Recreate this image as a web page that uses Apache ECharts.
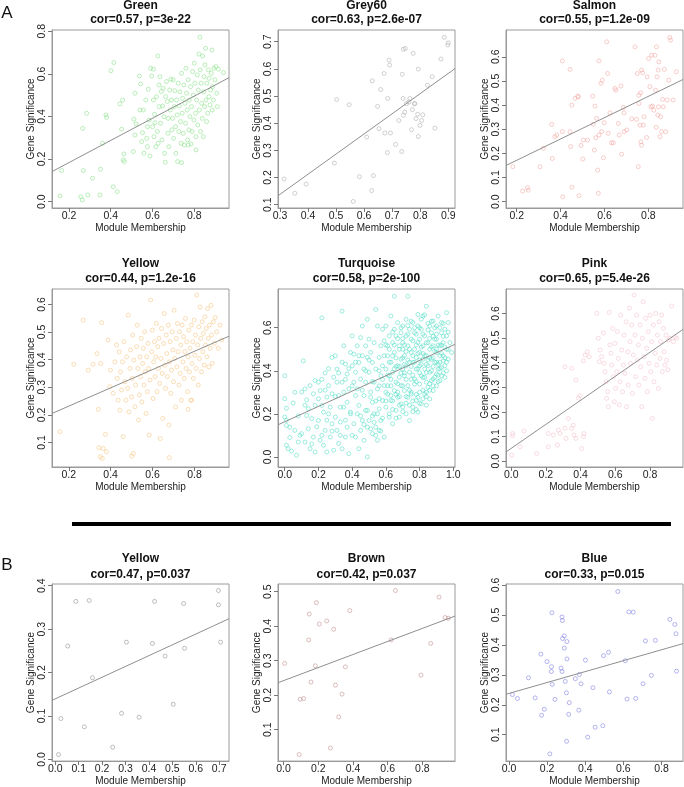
<!DOCTYPE html>
<html><head><meta charset="utf-8">
<script src="https://cdn.jsdelivr.net/npm/echarts@6/dist/echarts.min.js"></script>
<style>html,body{margin:0;padding:0;background:#fff}#c{width:684px;height:787px}</style>
</head><body><div id="c"></div>
<script>
// ---------- DATA ----------
const panelNames = ['Green','Grey60','Salmon','Yellow','Turquoise','Pink','Yellow','Brown','Blue'];
const panelStats = ['cor=0.57, p=3e-22','cor=0.63, p=2.6e-07','cor=0.55, p=1.2e-09','cor=0.44, p=1.2e-16','cor=0.58, p=2e-100','cor=0.65, p=5.4e-26','cor=0.47, p=0.037','cor=0.42, p=0.037','cor=0.33, p=0.015'];

const xRanges = [[0.119,0.966],[0.293,0.924],[0.151,0.958],[0.12,0.965],[-0.04,1.01],[-0.03,0.99],[-0.014,0.742],[-0.032,0.988],[-0.016,0.913]];
const yRanges = [[-0.03,0.806],[0.088,0.743],[-0.026,0.711],[0.011,0.656],[-0.047,0.78],[-0.024,0.699],[-0.004,0.404],[0.009,0.522],[0.012,0.603]];
const xTicks = [[0.2,0.4,0.6,0.8],[0.3,0.4,0.5,0.6,0.7,0.8,0.9],[0.2,0.4,0.6,0.8],[0.2,0.4,0.6,0.8],[0,0.2,0.4,0.6,0.8,1.0],[0,0.2,0.4,0.6,0.8],[0,0.1,0.2,0.3,0.4,0.5,0.6,0.7],[0,0.2,0.4,0.6,0.8],[0,0.2,0.4,0.6,0.8]];
const yTicks = [[0,0.2,0.4,0.6,0.8],[0.1,0.2,0.3,0.4,0.5,0.6,0.7],[0,0.1,0.2,0.3,0.4,0.5,0.6],[0.1,0.2,0.3,0.4,0.5,0.6],[0,0.2,0.4,0.6],[0,0.1,0.2,0.3,0.4,0.5,0.6],[0,0.1,0.2,0.3,0.4],[0.1,0.2,0.3,0.4,0.5],[0.1,0.2,0.3,0.4,0.5,0.6]];

// regression line end points (value space)
const fitLines = [
 [[0.119,0.141],[0.966,0.582]],
 [[0.293,0.133],[0.924,0.601]],
 [[0.151,0.150],[0.958,0.506]],
 [[0.12,0.205],[0.965,0.485]],
 [[-0.04,0.149],[1.01,0.523]],
 [[-0.03,0.037],[0.99,0.535]],
 [[-0.014,0.136],[0.742,0.324]],
 [[-0.032,0.236],[0.988,0.429]],
 [[-0.016,0.235],[0.913,0.404]]
];

const greenPts = [[0.157,0.027],[0.165,0.146],[0.257,0.023],[0.264,0.008],[0.269,0.146],[0.266,0.344],[0.285,0.415],[0.290,0.031],[0.313,0.110],[0.348,0.031],[0.351,0.152],[0.361,0.274],[0.377,0.407],[0.380,0.396],[0.401,0.615],[0.415,0.653],[0.412,0.070],[0.431,0.047],[0.444,0.459],[0.452,0.340],[0.457,0.477],[0.460,0.196],[0.463,0.224],[0.465,0.188],[0.508,0.235],[0.511,0.387],[0.516,0.509],[0.516,0.313],[0.521,0.365],[0.537,0.590],[0.540,0.430],[0.543,0.553],[0.548,0.282],[0.552,0.324],[0.556,0.430],[0.559,0.227],[0.568,0.477],[0.572,0.297],[0.576,0.258],[0.576,0.352],[0.580,0.528],[0.584,0.383],[0.588,0.214],[0.591,0.626],[0.596,0.590],[0.600,0.352],[0.604,0.622],[0.604,0.477],[0.607,0.305],[0.610,0.410],[0.612,0.371],[0.616,0.258],[0.619,0.493],[0.623,0.329],[0.626,0.684],[0.627,0.274],[0.631,0.548],[0.632,0.446],[0.635,0.587],[0.639,0.368],[0.642,0.517],[0.645,0.290],[0.648,0.449],[0.651,0.532],[0.655,0.399],[0.658,0.227],[0.661,0.185],[0.663,0.493],[0.667,0.564],[0.671,0.470],[0.674,0.321],[0.675,0.391],[0.678,0.258],[0.682,0.524],[0.685,0.430],[0.688,0.575],[0.691,0.477],[0.693,0.337],[0.696,0.391],[0.699,0.572],[0.701,0.297],[0.704,0.446],[0.707,0.521],[0.710,0.352],[0.712,0.227],[0.715,0.477],[0.718,0.407],[0.720,0.188],[0.723,0.556],[0.726,0.329],[0.728,0.449],[0.731,0.516],[0.734,0.376],[0.737,0.274],[0.739,0.603],[0.742,0.415],[0.744,0.485],[0.747,0.321],[0.750,0.548],[0.752,0.266],[0.755,0.462],[0.758,0.368],[0.760,0.626],[0.763,0.509],[0.766,0.430],[0.768,0.290],[0.771,0.572],[0.774,0.337],[0.776,0.477],[0.779,0.399],[0.782,0.540],[0.784,0.271],[0.787,0.446],[0.790,0.329],[0.792,0.611],[0.795,0.501],[0.798,0.383],[0.800,0.650],[0.803,0.556],[0.806,0.415],[0.808,0.305],[0.811,0.477],[0.814,0.595],[0.816,0.360],[0.819,0.524],[0.822,0.693],[0.824,0.430],[0.827,0.772],[0.828,0.619],[0.830,0.329],[0.833,0.556],[0.835,0.462],[0.838,0.391],[0.840,0.684],[0.843,0.305],[0.845,0.516],[0.846,0.587],[0.849,0.446],[0.851,0.642],[0.854,0.720],[0.856,0.477],[0.859,0.376],[0.860,0.556],[0.864,0.415],[0.867,0.619],[0.870,0.493],[0.871,0.579],[0.875,0.454],[0.878,0.524],[0.881,0.603],[0.884,0.712],[0.886,0.430],[0.887,0.540],[0.891,0.477],[0.894,0.626],[0.899,0.572],[0.903,0.634],[0.907,0.509],[0.910,0.446],[0.915,0.622],[0.939,0.606],[0.808,0.243],[0.771,0.266],[0.739,0.183]];

const grey60Pts = [[0.315,0.195],[0.353,0.142],[0.393,0.176],[0.502,0.487],[0.494,0.253],[0.547,0.468],[0.561,0.112],[0.583,0.203],[0.627,0.152],[0.629,0.556],[0.633,0.207],[0.609,0.349],[0.648,0.462],[0.653,0.380],[0.659,0.524],[0.671,0.583],[0.674,0.364],[0.683,0.292],[0.684,0.491],[0.689,0.632],[0.691,0.614],[0.694,0.364],[0.712,0.322],[0.724,0.410],[0.734,0.296],[0.736,0.580],[0.739,0.491],[0.740,0.672],[0.747,0.675],[0.740,0.429],[0.745,0.441],[0.751,0.472],[0.760,0.478],[0.763,0.491],[0.769,0.376],[0.772,0.450],[0.775,0.657],[0.779,0.472],[0.781,0.472],[0.785,0.417],[0.791,0.433],[0.793,0.351],[0.793,0.599],[0.799,0.392],[0.805,0.410],[0.809,0.431],[0.826,0.540],[0.843,0.571],[0.852,0.382],[0.874,0.636],[0.886,0.716],[0.898,0.688],[0.900,0.696]];

const salmonPts = [[0.182,0.145],[0.227,0.044],[0.249,0.058],[0.253,0.048],[0.306,0.145],[0.321,0.221],[0.359,0.320],[0.362,0.179],[0.374,0.269],[0.382,0.276],[0.408,0.290],[0.408,0.583],[0.443,0.290],[0.443,0.548],[0.410,0.020],[0.446,0.228],[0.451,0.400],[0.451,0.060],[0.466,0.428],[0.478,0.437],[0.481,0.434],[0.484,0.025],[0.493,0.233],[0.501,0.177],[0.504,0.255],[0.523,0.255],[0.546,0.437],[0.549,0.321],[0.554,0.214],[0.557,0.396],[0.560,0.265],[0.564,0.345],[0.569,0.131],[0.572,0.035],[0.575,0.583],[0.575,0.276],[0.584,0.490],[0.590,0.503],[0.587,0.290],[0.595,0.182],[0.599,0.327],[0.610,0.662],[0.614,0.531],[0.617,0.283],[0.625,0.368],[0.632,0.244],[0.640,0.244],[0.648,0.469],[0.652,0.462],[0.663,0.324],[0.667,0.276],[0.675,0.479],[0.678,0.197],[0.686,0.390],[0.689,0.368],[0.690,0.290],[0.701,0.297],[0.724,0.343],[0.739,0.641],[0.746,0.341],[0.750,0.531],[0.754,0.145],[0.757,0.441],[0.757,0.407],[0.762,0.317],[0.765,0.451],[0.766,0.248],[0.769,0.234],[0.769,0.545],[0.774,0.534],[0.777,0.317],[0.781,0.352],[0.792,0.266],[0.795,0.517],[0.801,0.593],[0.807,0.476],[0.812,0.393],[0.815,0.607],[0.819,0.396],[0.825,0.379],[0.830,0.606],[0.833,0.462],[0.836,0.308],[0.837,0.641],[0.840,0.517],[0.843,0.359],[0.845,0.545],[0.846,0.393],[0.848,0.579],[0.853,0.269],[0.856,0.352],[0.860,0.290],[0.865,0.424],[0.868,0.393],[0.873,0.548],[0.879,0.290],[0.886,0.421],[0.893,0.503],[0.898,0.680],[0.901,0.669],[0.913,0.421],[0.928,0.538]];

const yellowPts = [[0.157,0.139],[0.224,0.383],[0.269,0.543],[0.293,0.362],[0.316,0.383],[0.335,0.422],[0.341,0.220],[0.357,0.534],[0.352,0.386],[0.375,0.129],[0.344,0.081],[0.364,0.078],[0.388,0.471],[0.396,0.302],[0.399,0.362],[0.412,0.278],[0.420,0.392],[0.428,0.453],[0.431,0.332],[0.436,0.253],[0.441,0.428],[0.444,0.217],[0.447,0.356],[0.452,0.290],[0.457,0.392],[0.460,0.121],[0.463,0.465],[0.468,0.320],[0.473,0.253],[0.476,0.410],[0.481,0.296],[0.484,0.561],[0.487,0.211],[0.492,0.368],[0.495,0.435],[0.500,0.265],[0.503,0.332],[0.505,0.489],[0.508,0.060],[0.511,0.398],[0.516,0.229],[0.519,0.308],[0.524,0.447],[0.527,0.525],[0.530,0.368],[0.533,0.181],[0.537,0.272],[0.540,0.410],[0.543,0.338],[0.546,0.477],[0.549,0.247],[0.553,0.386],[0.556,0.441],[0.559,0.308],[0.562,0.501],[0.565,0.356],[0.569,0.205],[0.572,0.410],[0.575,0.284],[0.578,0.459],[0.581,0.368],[0.584,0.127],[0.588,0.326],[0.591,0.616],[0.596,0.429],[0.599,0.507],[0.602,0.259],[0.605,0.392],[0.609,0.465],[0.612,0.338],[0.615,0.410],[0.618,0.531],[0.621,0.284],[0.625,0.447],[0.628,0.368],[0.631,0.477],[0.634,0.314],[0.637,0.114],[0.640,0.404],[0.643,0.513],[0.646,0.350],[0.649,0.187],[0.653,0.459],[0.656,0.567],[0.659,0.380],[0.662,0.296],[0.665,0.489],[0.668,0.422],[0.671,0.338],[0.675,0.525],[0.678,0.163],[0.681,0.392],[0.684,0.465],[0.687,0.278],[0.691,0.362],[0.694,0.501],[0.697,0.435],[0.700,0.320],[0.703,0.579],[0.706,0.404],[0.710,0.229],[0.713,0.477],[0.716,0.374],[0.719,0.531],[0.722,0.429],[0.726,0.308],[0.729,0.501],[0.732,0.350],[0.735,0.453],[0.738,0.253],[0.741,0.525],[0.745,0.392],[0.748,0.483],[0.751,0.332],[0.754,0.429],[0.757,0.549],[0.760,0.368],[0.763,0.465],[0.767,0.284],[0.770,0.410],[0.773,0.507],[0.776,0.356],[0.779,0.441],[0.783,0.253],[0.786,0.525],[0.789,0.386],[0.792,0.465],[0.795,0.332],[0.799,0.543],[0.802,0.416],[0.805,0.489],[0.808,0.368],[0.811,0.634],[0.815,0.453],[0.818,0.308],[0.821,0.519],[0.824,0.404],[0.827,0.591],[0.831,0.477],[0.834,0.356],[0.837,0.537],[0.840,0.429],[0.843,0.495],[0.847,0.380],[0.850,0.555],[0.853,0.453],[0.856,0.513],[0.859,0.410],[0.863,0.585],[0.866,0.477],[0.869,0.374],[0.872,0.525],[0.875,0.441],[0.879,0.597],[0.882,0.489],[0.885,0.386],[0.890,0.537],[0.895,0.459],[0.899,0.553],[0.906,0.501],[0.914,0.441],[0.922,0.525],[0.930,0.471],[0.380,0.066],[0.350,0.048],[0.360,0.042],[0.500,0.050],[0.680,0.045],[0.770,0.220],[0.786,0.253]];

const turquoisePts = [[0.00,0.377],[0.00,0.27],[0.01,0.226],[0.01,0.146],[0.00,0.185],[0.01,0.054],[0.02,0.038],[0.04,0.027],[0.03,0.138],[0.01,0.17],[0.06,0.123],[0.07,0.008],[0.08,0.069],[0.05,0.25],[0.09,0.10],
[0.11,0.446],[0.12,0.316],[0.10,0.301],[0.13,0.265],[0.14,0.224],[0.15,0.331],[0.16,0.178],[0.17,0.293],[0.18,0.239],[0.18,0.355],[0.10,0.108],[0.12,0.069],[0.14,0.131],[0.15,0.038],[0.17,0.092],[0.18,0.023],[0.13,0.192],
[0.20,0.347],[0.20,0.27],[0.21,0.308],[0.22,0.239],[0.22,0.646],[0.23,0.208],[0.24,0.39],[0.25,0.278],[0.26,0.331],[0.27,0.231],[0.28,0.293],[0.29,0.37],[0.28,0.462],[0.20,0.169],[0.21,0.077],[0.23,0.054],[0.24,0.123],[0.25,0.023],[0.26,0.2],[0.27,0.092],[0.28,0.154],[0.29,0.031],
[0.30,0.47],[0.31,0.347],[0.31,0.408],[0.32,0.285],[0.33,0.231],[0.34,0.677],[0.34,0.347],[0.35,0.516],[0.35,0.301],[0.36,0.431],[0.37,0.254],[0.37,0.385],[0.38,0.316],[0.39,0.485],[0.39,0.208],[0.30,0.185],[0.31,0.123],[0.32,0.062],[0.33,0.162],[0.34,0.038],[0.35,0.231],[0.36,0.092],[0.37,0.138],[0.38,0.015],[0.39,0.2],
[0.40,0.423],[0.40,0.562],[0.41,0.347],[0.41,0.477],[0.42,0.285],[0.42,0.393],[0.43,0.516],[0.43,0.316],[0.44,0.239],[0.44,0.439],[0.45,0.554],[0.45,0.362],[0.46,0.47],[0.46,0.608],[0.47,0.285],[0.47,0.408],[0.48,0.347],[0.48,0.516],[0.49,0.639],[0.49,0.216],[0.49,0.462],[0.41,0.154],[0.42,0.092],[0.43,0.2],[0.44,0.038],[0.45,0.123],[0.46,0.169],[0.47,0.077],[0.48,0.216],[0.49,0.138],[0.49,0.0],
[0.50,0.393],[0.50,0.547],[0.51,0.301],[0.51,0.485],[0.52,0.254],[0.52,0.439],[0.53,0.347],[0.53,0.531],[0.54,0.685],[0.54,0.408],[0.55,0.608],[0.55,0.316],[0.56,0.462],[0.56,0.27],[0.57,0.516],[0.57,0.377],[0.58,0.593],[0.58,0.423],[0.59,0.331],[0.59,0.539],[0.50,0.169],[0.51,0.277],[0.52,0.108],[0.53,0.2],[0.54,0.138],[0.55,0.077],[0.56,0.223],[0.56,0.123],[0.57,0.169],[0.58,0.262],[0.59,0.092],
[0.60,0.408],[0.60,0.608],[0.61,0.516],[0.61,0.331],[0.61,0.47],[0.62,0.562],[0.62,0.377],[0.63,0.654],[0.63,0.439],[0.63,0.285],[0.64,0.531],[0.64,0.393],[0.65,0.593],[0.65,0.746],[0.65,0.485],[0.66,0.347],[0.66,0.562],[0.67,0.423],[0.67,0.624],[0.67,0.301],[0.68,0.516],[0.68,0.37],[0.69,0.454],[0.69,0.577],[0.69,0.331],[0.70,0.5],[0.70,0.408],[0.60,0.231],[0.61,0.292],[0.62,0.185],[0.63,0.262],[0.64,0.154],[0.65,0.308],[0.66,0.216],[0.67,0.277],[0.68,0.185],[0.69,0.246],
[0.70,0.608],[0.70,0.531],[0.71,0.377],[0.71,0.47],[0.72,0.562],[0.72,0.423],[0.72,0.639],[0.73,0.331],[0.73,0.516],[0.73,0.746],[0.74,0.593],[0.74,0.393],[0.75,0.485],[0.75,0.301],[0.75,0.547],[0.76,0.439],[0.76,0.624],[0.77,0.362],[0.77,0.5],[0.77,0.577],[0.78,0.408],[0.78,0.462],[0.79,0.662],[0.79,0.531],[0.70,0.231],[0.71,0.308],[0.72,0.2],[0.73,0.277],[0.74,0.169],[0.75,0.292],[0.76,0.231],[0.77,0.338],[0.78,0.262],[0.79,0.208],
[0.79,0.608],[0.80,0.423],[0.80,0.547],[0.80,0.485],[0.81,0.377],[0.81,0.593],[0.82,0.454],[0.82,0.654],[0.82,0.516],[0.83,0.408],[0.83,0.562],[0.84,0.347],[0.84,0.70],[0.84,0.47],[0.85,0.531],[0.85,0.423],[0.86,0.608],[0.86,0.5],[0.86,0.393],[0.87,0.577],[0.87,0.454],[0.88,0.631],[0.88,0.516],[0.88,0.362],[0.89,0.547],[0.89,0.439],[0.79,0.277],[0.80,0.338],[0.81,0.246],[0.82,0.369],[0.83,0.292],[0.84,0.392],[0.85,0.323],[0.86,0.269],[0.87,0.354],[0.88,0.308],
[0.90,0.608],[0.90,0.485],[0.90,0.547],[0.91,0.408],[0.91,0.654],[0.92,0.516],[0.92,0.439],[0.93,0.577],[0.93,0.377],[0.93,0.624],[0.94,0.47],[0.94,0.531],[0.95,0.423],[0.95,0.593],[0.96,0.67],[0.96,0.5],[0.96,0.562],[0.97,0.454],[0.97,0.624],[0.98,0.531],[0.99,0.485],[0.90,0.385],[0.91,0.431],[0.92,0.354],[0.93,0.415],[0.94,0.446],[0.95,0.369],
[0.62,0.44],[0.64,0.47],[0.66,0.42],[0.68,0.5],[0.70,0.46],[0.72,0.49],[0.74,0.44],[0.76,0.47],[0.78,0.52],[0.80,0.45],[0.82,0.48],[0.84,0.43],[0.86,0.55],[0.88,0.46],[0.90,0.50],[0.92,0.47],[0.94,0.56],[0.96,0.44],[0.63,0.36],[0.67,0.34],[0.71,0.39],[0.75,0.36],[0.79,0.41],[0.83,0.37],[0.87,0.40],[0.91,0.38],[0.65,0.52],[0.69,0.60],[0.73,0.57],[0.77,0.60],[0.81,0.64],[0.85,0.59],[0.89,0.60],[0.93,0.52],[0.97,0.58],[0.60,0.30],[0.64,0.26],[0.68,0.24],[0.72,0.28],[0.76,0.26],[0.80,0.30],[0.84,0.28],[0.88,0.33],[0.62,0.20],[0.66,0.18],[0.70,0.21],[0.74,0.24],[0.78,0.22],
[0.56,0.40],[0.58,0.36],[0.59,0.47],[0.60,0.52],[0.61,0.38],[0.62,0.50],[0.63,0.33],[0.64,0.58],[0.65,0.41],[0.66,0.46],[0.67,0.55],[0.68,0.42],[0.69,0.39],[0.70,0.55],[0.71,0.43],[0.71,0.52],[0.72,0.36],[0.73,0.45],[0.73,0.61],[0.74,0.50],[0.75,0.42],[0.75,0.63],[0.76,0.38],[0.76,0.54],[0.77,0.44],[0.78,0.57],[0.78,0.35],[0.79,0.48],[0.80,0.39],[0.80,0.60],[0.81,0.51],[0.81,0.43],[0.82,0.57],[0.82,0.31],[0.83,0.47],[0.83,0.66],[0.84,0.53],[0.84,0.30],[0.85,0.45],[0.85,0.62],[0.86,0.34],[0.86,0.46],[0.87,0.51],[0.87,0.63],[0.88,0.42],[0.88,0.56],[0.89,0.37],[0.89,0.49],[0.90,0.44],[0.90,0.57],[0.91,0.52],[0.91,0.35],[0.92,0.60],[0.92,0.41],[0.93,0.48],[0.94,0.39],[0.94,0.62],[0.95,0.51],[0.95,0.46],[0.96,0.40],[0.97,0.50],[0.66,0.29],[0.70,0.33],[0.74,0.31],[0.78,0.29],[0.82,0.27],[0.86,0.31],[0.90,0.33],[0.72,0.25],[0.76,0.21],[0.80,0.25],[0.84,0.24],[0.68,0.28],[0.64,0.22],[0.60,0.26],[0.56,0.33],[0.54,0.26],[0.52,0.35],[0.50,0.45],[0.48,0.40],[0.46,0.31],[0.44,0.47],[0.42,0.44],[0.40,0.33],[0.38,0.41],[0.36,0.36],[0.34,0.44],[0.32,0.39],[0.30,0.28],[0.26,0.41],[0.24,0.31],[0.22,0.36],[0.45,0.19],[0.47,0.15],[0.51,0.13],[0.53,0.16],[0.55,0.20],[0.57,0.12],[0.52,0.19],[0.54,0.10],[0.58,0.18],[0.40,0.10],[0.36,0.17],[0.33,0.10],[0.28,0.12],[0.25,0.17],[0.22,0.10],[0.19,0.14],[0.16,0.06],[0.12,0.24],[0.08,0.19],[0.06,0.30],[0.03,0.09]];

const pinkPts = [[0.008,0.112],[0.008,0.103],[0.074,0.122],[0.051,0.058],[0.003,0.024],[0.147,0.031],[0.214,0.112],[0.214,0.058],[0.243,0.106],[0.266,0.065],[0.272,0.126],[0.281,0.112],[0.310,0.133],[0.316,0.092],[0.329,0.173],[0.348,0.133],[0.358,0.146],[0.362,0.106],[0.373,0.092],[0.387,0.255],[0.396,0.266],[0.406,0.051],[0.416,0.099],[0.419,0.112],[0.310,0.383],[0.348,0.377],[0.373,0.329],[0.416,0.407],[0.426,0.431],[0.439,0.444],[0.450,0.424],[0.493,0.600],[0.502,0.499],[0.508,0.404],[0.512,0.451],[0.521,0.424],[0.531,0.520],[0.535,0.397],[0.541,0.363],[0.546,0.322],[0.550,0.255],[0.556,0.282],[0.560,0.221],[0.565,0.604],[0.569,0.472],[0.575,0.438],[0.579,0.390],[0.585,0.539],[0.589,0.343],[0.594,0.241],[0.598,0.478],[0.602,0.295],[0.608,0.363],[0.612,0.526],[0.617,0.417],[0.623,0.228],[0.627,0.322],[0.631,0.593],[0.637,0.451],[0.642,0.282],[0.646,0.390],[0.650,0.512],[0.656,0.356],[0.662,0.566],[0.665,0.221],[0.671,0.444],[0.675,0.309],[0.681,0.621],[0.685,0.485],[0.688,0.397],[0.694,0.553],[0.698,0.275],[0.704,0.431],[0.708,0.675],[0.713,0.512],[0.717,0.343],[0.723,0.593],[0.727,0.410],[0.733,0.472],[0.736,0.309],[0.742,0.553],[0.746,0.383],[0.752,0.221],[0.756,0.499],[0.761,0.648],[0.765,0.424],[0.771,0.336],[0.775,0.580],[0.781,0.458],[0.784,0.282],[0.790,0.526],[0.794,0.397],[0.800,0.593],[0.804,0.363],[0.809,0.485],[0.813,0.173],[0.819,0.553],[0.823,0.322],[0.829,0.438],[0.833,0.600],[0.838,0.390],[0.842,0.512],[0.848,0.295],[0.852,0.566],[0.857,0.417],[0.861,0.485],[0.867,0.593],[0.871,0.363],[0.877,0.539],[0.881,0.444],[0.886,0.390],[0.892,0.512],[0.896,0.410],[0.902,0.371],[0.906,0.492],[0.915,0.499],[0.925,0.630],[0.934,0.485],[0.944,0.505],[0.953,0.499]];

const yellowBPts = [[0.014,0.011],[0.024,0.094],[0.053,0.261],[0.088,0.364],[0.124,0.075],[0.145,0.366],[0.159,0.188],[0.245,0.028],[0.283,0.106],[0.304,0.270],[0.358,0.097],[0.415,0.267],[0.424,0.364],[0.469,0.238],[0.504,0.127],[0.548,0.359],[0.552,0.256],[0.697,0.389],[0.697,0.356],[0.706,0.270]];

const brownBPts = [[0.006,0.292],[0.096,0.188],[0.116,0.190],[0.090,0.028],[0.145,0.360],[0.148,0.435],[0.158,0.238],[0.183,0.285],[0.189,0.468],[0.206,0.406],[0.249,0.415],[0.270,0.047],[0.289,0.391],[0.299,0.229],[0.318,0.137],[0.337,0.203],[0.356,0.282],[0.382,0.445],[0.620,0.360],[0.645,0.503],[0.792,0.258],[0.848,0.350],[0.896,0.484],[0.931,0.425],[0.950,0.423]];

const blueBPts = [[0.018,0.234],[0.044,0.221],[0.102,0.290],[0.137,0.223],[0.167,0.369],[0.171,0.165],[0.185,0.185],[0.199,0.344],[0.214,0.036],[0.225,0.507],[0.223,0.327],[0.222,0.311],[0.227,0.268],[0.241,0.218],[0.273,0.322],[0.278,0.311],[0.278,0.493],[0.280,0.481],[0.281,0.421],[0.290,0.430],[0.290,0.389],[0.295,0.278],[0.301,0.240],[0.302,0.078],[0.304,0.353],[0.304,0.411],[0.316,0.207],[0.313,0.168],[0.348,0.287],[0.366,0.182],[0.369,0.301],[0.378,0.270],[0.401,0.349],[0.413,0.092],[0.440,0.257],[0.452,0.125],[0.492,0.130],[0.496,0.364],[0.522,0.375],[0.527,0.243],[0.571,0.578],[0.610,0.347],[0.619,0.219],[0.629,0.510],[0.652,0.509],[0.665,0.221],[0.703,0.270],[0.716,0.413],[0.747,0.298],[0.768,0.415],[0.844,0.485],[0.870,0.468],[0.876,0.437],[0.879,0.312]];

const allPts = [greenPts, grey60Pts, salmonPts, yellowPts, turquoisePts, pinkPts, yellowBPts, brownBPts, blueBPts];
const pointColors = ['#84e184','#adadad','#f2a6a2','#f6c47e','#52dcc6','#f5c0cb','#8c8c8c','#c08a8a','#7a7ae4'];

// ---------- LAYOUT ----------
const lefts = [52, 278, 506];
const tops = [30, 289, 584];
const boxW = 177, boxH = 178;
const titleY = [[6, 20], [264, 279], [559, 575]];

const FONT = '"Liberation Sans", Arial, sans-serif';
const grids = [], xAxes = [], yAxes = [], series = [], graphics = [];

for (let i = 0; i < 9; i++) {
  const r = Math.floor(i / 3), c = i % 3;
  grids.push({left: lefts[c], top: tops[r], width: boxW, height: boxH, show: true, borderColor: '#9a9a9a', borderWidth: 1, backgroundColor: 'transparent'});
  xAxes.push({
    type: 'value', gridIndex: i, min: xRanges[i][0], max: xRanges[i][1],
    axisLine: {show: true, onZero: false, lineStyle: {color: '#9a9a9a', width: 1}},
    axisTick: {show: true, customValues: xTicks[i], length: 4, lineStyle: {color: '#777'}},
    axisLabel: {customValues: xTicks[i], formatter: v => v.toFixed(1), fontSize: 10.5, color: '#222', margin: 3, fontFamily: FONT},
    splitLine: {show: false},
    name: 'Module Membership', nameLocation: 'middle', nameGap: 14,
    nameTextStyle: {fontSize: 10, color: '#222', fontFamily: FONT}
  });
  yAxes.push({
    type: 'value', gridIndex: i, min: yRanges[i][0], max: yRanges[i][1],
    axisLine: {show: true, onZero: false, lineStyle: {color: '#9a9a9a', width: 1}},
    axisTick: {show: true, customValues: yTicks[i], length: 4, lineStyle: {color: '#777'}},
    axisLabel: {customValues: yTicks[i], formatter: v => v.toFixed(1), fontSize: 10.5, color: '#222', margin: 4, rotate: 90, fontFamily: FONT},
    splitLine: {show: false},
    name: 'Gene Significance', nameLocation: 'middle', nameGap: 15, nameRotate: 90,
    nameTextStyle: {fontSize: 10, color: '#222', fontFamily: FONT}
  });
  series.push({
    type: 'scatter', xAxisIndex: i, yAxisIndex: i, data: allPts[i], symbol: 'circle', symbolSize: 4,
    itemStyle: {color: 'rgba(0,0,0,0)', borderColor: pointColors[i], borderWidth: 0.7}, silent: true
  });
  series.push({
    type: 'line', xAxisIndex: i, yAxisIndex: i, data: fitLines[i], showSymbol: false, symbol: 'none',
    lineStyle: {color: '#8f8f8f', width: 1}, silent: true, z: 3
  });
  const cx = lefts[c] + boxW / 2;
  graphics.push({type: 'text', x: cx, y: titleY[r][0], style: {text: panelNames[i], font: 'bold 12px ' + FONT, fill: '#111', textAlign: 'center', textVerticalAlign: 'middle'}});
  graphics.push({type: 'text', x: cx, y: titleY[r][1], style: {text: panelStats[i], font: 'bold 12px ' + FONT, fill: '#111', textAlign: 'center', textVerticalAlign: 'middle'}});
}
graphics.push({type: 'text', x: 7, y: 13, style: {text: 'A', font: '17px ' + FONT, fill: '#111', textAlign: 'center', textVerticalAlign: 'middle'}});
graphics.push({type: 'text', x: 7, y: 565, style: {text: 'B', font: '17px ' + FONT, fill: '#111', textAlign: 'center', textVerticalAlign: 'middle'}});
graphics.push({type: 'line', shape: {x1: 72, y1: 524, x2: 671, y2: 524}, style: {stroke: '#000', lineWidth: 4}});

const chart = echarts.init(document.getElementById('c'), null, {renderer: 'canvas'});
chart.setOption({animation: false, backgroundColor: '#fff', grid: grids, xAxis: xAxes, yAxis: yAxes, series: series, graphic: graphics});
</script></body></html>
